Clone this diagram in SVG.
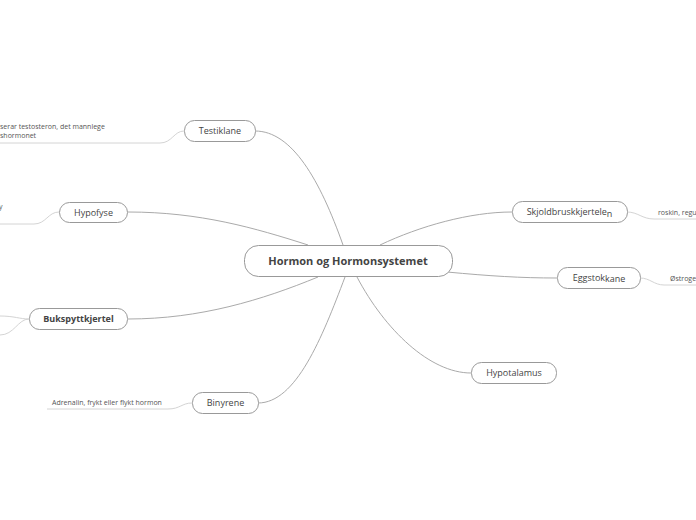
<svg xmlns="http://www.w3.org/2000/svg" width="696" height="520" viewBox="0 0 696 520">
<style>
.node{fill:#fff;stroke:#999;stroke-width:1}
.t{font-family:"Open Sans","Liberation Sans",sans-serif;font-size:9px;fill:#444;text-anchor:middle}
.b{font-weight:bold}
.c{fill:none;stroke:#aaa;stroke-width:1}
.s{fill:none;stroke:#d4d4d4;stroke-width:1}
.n{font-family:"Open Sans","Liberation Sans",sans-serif;font-size:7px;fill:#555}
</style>
<rect width="696" height="520" fill="#fff"/>
<g id="connectors">
<path class="c" d="M255,131 C292,131 320,180 343,245"/>
<path class="c" d="M128,212 C200,212 255,228 308,245"/>
<path class="c" d="M128,319 C200,319 262,300 318,277"/>
<path class="c" d="M258,403 C296,403 322,338 345,277"/>
<path class="c" d="M380,245 C420,226 470,212 512,212"/>
<path class="c" d="M447,272 C490,276 520,278 557,278"/>
<path class="c" d="M357,277 C385,330 430,373 471,373"/>
<path class="s" d="M184,131 C174,131 172,143 160,143 L0,143"/>
<path class="s" d="M59,212 C48,212 46,224 34,224 L0,224"/>
<path class="s" d="M29,319 C20,319 14,316 0,316"/>
<path class="s" d="M29,319 C18,319 14,335 0,335"/>
<path class="s" d="M192,403 C182,403 180,409 168,409 L47,409"/>
<path class="s" d="M627,212 C638,212 642,219 654,219 L696,219"/>
<path class="s" d="M640,278 C650,278 654,285 664,285 L696,285"/>
</g>
<g id="center">
<rect class="node" x="244.5" y="245.5" width="208" height="31" rx="14"/>
<text class="t b" x="348" y="265" style="font-size:11px">Hormon og Hormonsystemet</text>
</g>
<g id="testiklane">
<rect class="node" x="184.5" y="120.5" width="71" height="21" rx="10"/>
<text class="t" x="220" y="134">Testiklane</text>
<text class="n" x="0" y="129">serar testosteron, det mannlege</text>
<text class="n" x="0" y="138">shormonet</text>
</g>
<g id="hypofyse">
<rect class="node" x="59.5" y="202.5" width="68" height="20" rx="10"/>
<text class="t" x="93.5" y="216">Hypofyse</text>
<text class="n" x="-1" y="209">y</text>
</g>
<g id="bukspyttkjertel">
<rect class="node" x="29.5" y="308.5" width="98" height="21" rx="10"/>
<text class="t b" x="78.5" y="322">Bukspyttkjertel</text>
</g>
<g id="binyrene">
<rect class="node" x="192.5" y="392.5" width="66" height="21" rx="10"/>
<text class="t" x="225.5" y="406">Binyrene</text>
<text class="n" x="52" y="405">Adrenalin, frykt eller flykt hormon</text>
</g>
<g id="skjoldbruskkjertelen">
<rect class="node" x="512.5" y="201.5" width="115" height="21" rx="10"/>
<text class="t" x="569.5" y="215">Skjoldbruskkjertele<tspan dy="1.5">n</tspan></text>
<text class="n" x="658" y="215">roskin, regu</text>
</g>
<g id="eggstokkane">
<rect class="node" x="557.5" y="267.5" width="83" height="21" rx="10"/>
<text class="t" x="599" y="281">Eggstok<tspan dy="1">kane</tspan></text>
<text class="n" x="670" y="281">Østroge</text>
</g>
<g id="hypotalamus">
<rect class="node" x="471.5" y="362.5" width="85" height="21" rx="10"/>
<text class="t" x="514" y="376">Hypotalamus</text>
</g>
</svg>
